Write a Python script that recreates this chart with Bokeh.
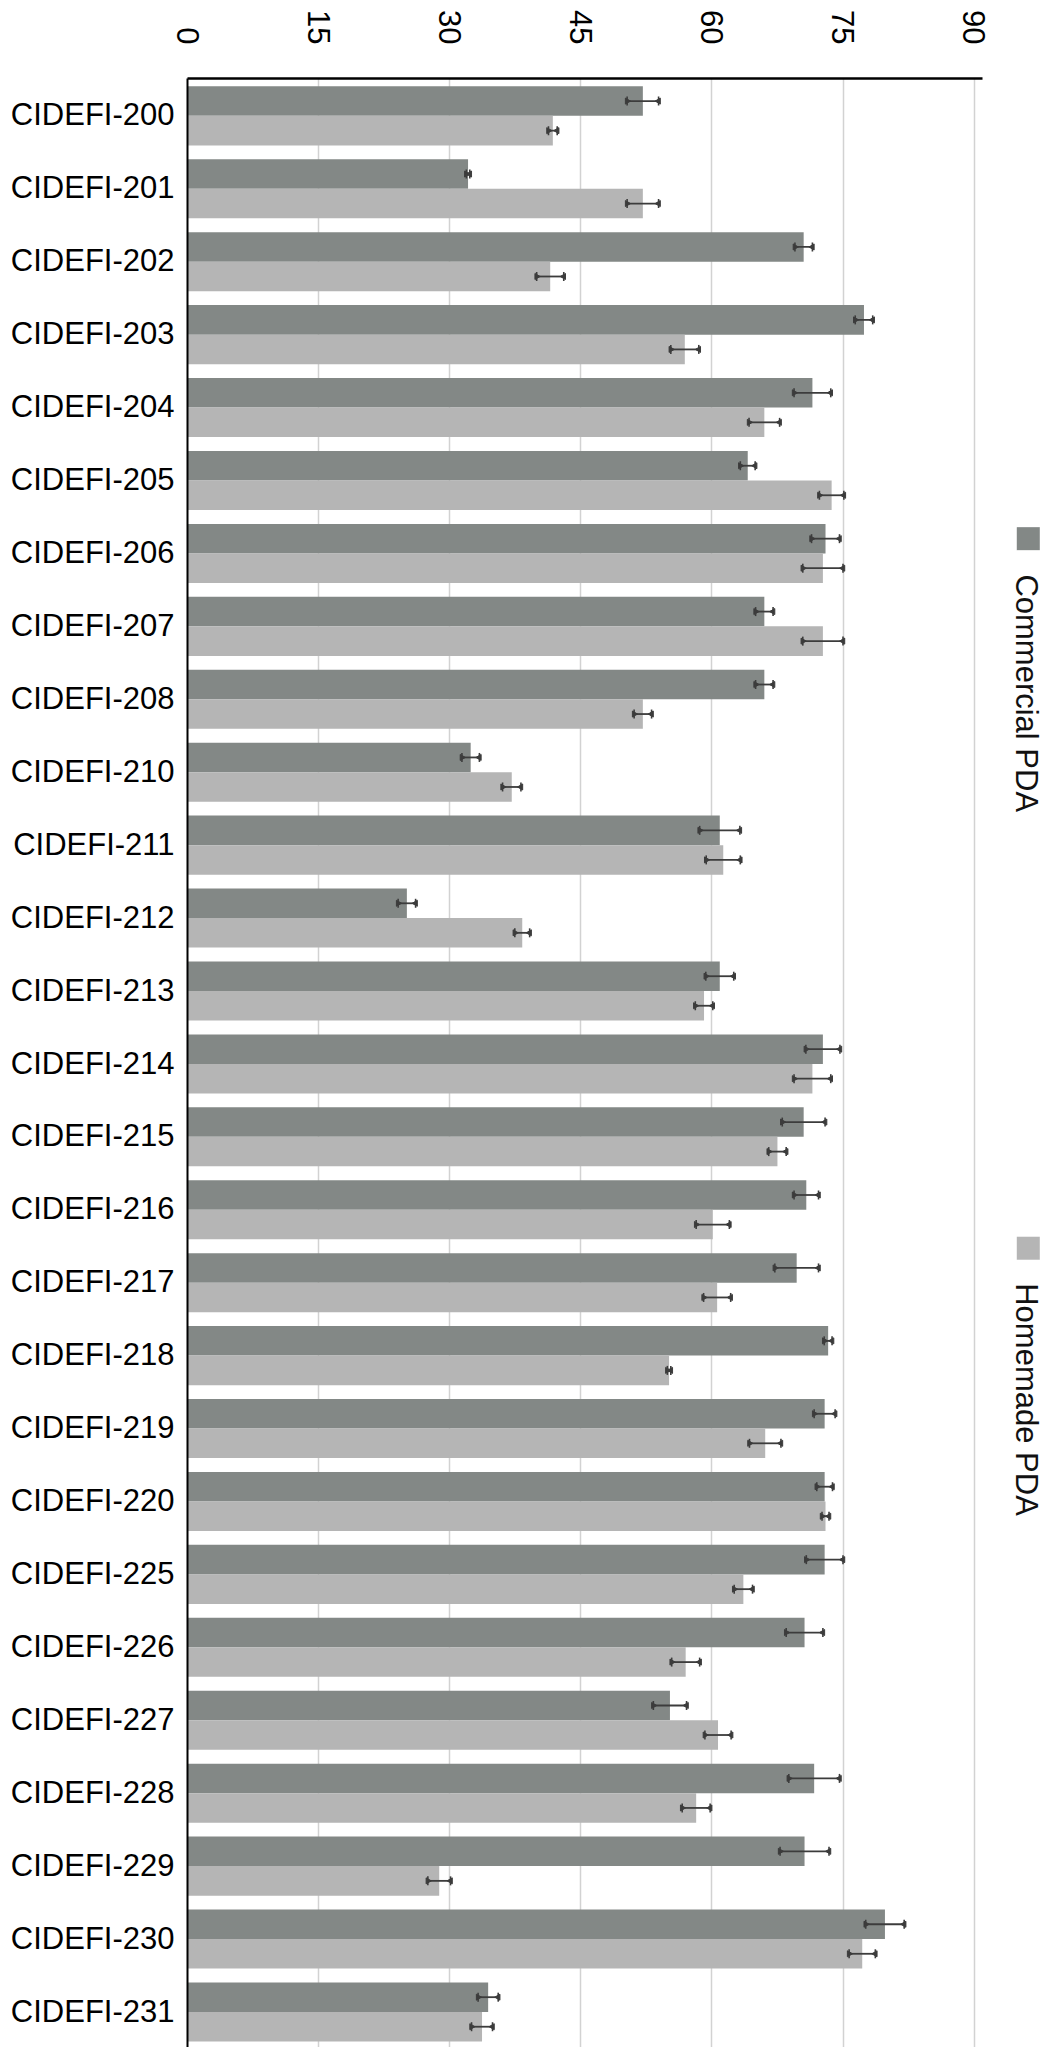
import math
from bokeh.plotting import figure
from bokeh.models import ColumnDataSource, FactorRange, Range1d, FixedTicker
from bokeh.transform import dodge
from bokeh.core.properties import value
from bokeh.embed import file_html
from bokeh.resources import INLINE

cats = ["CIDEFI-200", "CIDEFI-201", "CIDEFI-202", "CIDEFI-203", "CIDEFI-204",
        "CIDEFI-205", "CIDEFI-206", "CIDEFI-207", "CIDEFI-208", "CIDEFI-210",
        "CIDEFI-211", "CIDEFI-212", "CIDEFI-213", "CIDEFI-214", "CIDEFI-215",
        "CIDEFI-216", "CIDEFI-217", "CIDEFI-218", "CIDEFI-219", "CIDEFI-220",
        "CIDEFI-225", "CIDEFI-226", "CIDEFI-227", "CIDEFI-228", "CIDEFI-229",
        "CIDEFI-230", "CIDEFI-231"]

commercial = [52.1, 32.1, 70.5, 77.4, 71.5, 64.1, 73.0, 66.0, 66.0, 32.4,
              60.9, 25.1, 60.9, 72.7, 70.5, 70.8, 69.7, 73.3, 72.9, 72.9,
              72.9, 70.6, 55.2, 71.7, 70.6, 79.8, 34.4]
commercial_err = [1.8, 0.2, 1.0, 1.0, 2.1, 0.85, 1.6, 1.0, 1.0, 1.0,
                  2.3, 1.0, 1.6, 1.95, 2.45, 1.4, 2.5, 0.45, 1.2, 0.9,
                  2.1, 2.1, 1.9, 2.9, 2.8, 2.2, 1.15]
homemade = [41.8, 52.1, 41.5, 56.9, 66.0, 73.7, 72.7, 72.7, 52.1, 37.1,
            61.3, 38.3, 59.1, 71.5, 67.5, 60.1, 60.6, 55.1, 66.1, 73.0,
            63.6, 57.0, 60.7, 58.2, 28.8, 77.2, 33.7]
homemade_err = [0.5, 1.8, 1.55, 1.6, 1.75, 1.4, 2.3, 2.3, 1.0, 1.05,
                1.95, 0.85, 1.0, 2.1, 1.0, 1.9, 1.55, 0.2, 1.8, 0.4,
                1.05, 1.6, 1.5, 1.6, 1.3, 1.5, 1.2]

x_ticks = [0, 15, 30, 45, 60, 75, 90]
series_names = ["Commercial PDA", "Homemade PDA"]
colors = ["#838886", "#b5b5b5"]
FONT = "Liberation Sans"

src = ColumnDataSource(dict(
    cat=cats,
    com=commercial,
    com_lo=[v - e for v, e in zip(commercial, commercial_err)],
    com_hi=[v + e for v, e in zip(commercial, commercial_err)],
    hom=homemade,
    hom_lo=[v - e for v, e in zip(homemade, homemade_err)],
    hom_hi=[v + e for v, e in zip(homemade, homemade_err)],
))

W, H = 1045, 2047
LEFT, TOP = 187, 78
SCALE = 8.74
p = figure(width=W, height=H, output_backend="svg", toolbar_location=None,
           y_range=FactorRange(factors=list(reversed(cats))),
           x_range=Range1d(0, (W - LEFT) / SCALE), x_axis_location="above",
           min_border_left=LEFT, min_border_right=0, min_border_top=TOP,
           min_border_bottom=0)
p.outline_line_color = None
p.background_fill_color = "white"
p.border_fill_color = "white"

bar_h = 0.405
offs = [0.19, -0.215]
keys = ["com", "hom"]
for k, off, col in zip(keys, offs, colors):
    yy = dodge("cat", off, range=p.y_range)
    p.hbar(y=yy, right=k, left=0, height=bar_h, source=src,
           fill_color=col, line_color=None)
for k, off in zip(keys, offs):
    yy = dodge("cat", off, range=p.y_range)
    p.segment(x0=k + "_lo", x1=k + "_hi", y0=yy, y1=yy, source=src,
              line_color="#3c3c3c", line_width=1.8)
    p.scatter(x=k + "_hi", y=yy, source=src, marker="triangle", angle=math.pi / 2,
              size=6, fill_color="#3c3c3c", line_color="#3c3c3c")
    p.scatter(x=k + "_lo", y=yy, source=src, marker="triangle", angle=-math.pi / 2,
              size=6, fill_color="#3c3c3c", line_color="#3c3c3c")
    for end in ("_lo", "_hi"):
        p.scatter(x=k + end, y=yy, source=src, marker="dash", angle=math.pi / 2,
                  size=9, line_color="#3c3c3c", line_width=1.6)

# legend (rotated, drawn manually at the right)
leg_sq_x = [96.2, 96.2]
leg_tx_x = [96.0, 96.0]
leg_sq_y = [20.69, 10.96]
leg_tx_y = [20.2, 10.48]
p.scatter(x=leg_sq_x, y=leg_sq_y, marker="square", size=23, fill_color=colors,
          line_color=None)
p.text(x=leg_tx_x, y=leg_tx_y, text=series_names, angle=-math.pi / 2,
       text_align="left", text_baseline="middle", text_font=value(FONT),
       text_font_size="31px", text_color="#111111")

# axes
xa = p.xaxis[0]
xa.ticker = FixedTicker(ticks=x_ticks)
xa.bounds = (0, 91.0)
xa.major_label_orientation = -math.pi / 2
xa.major_label_standoff = 34
xa.major_tick_out = 0
xa.major_tick_in = 0
xa.minor_tick_out = 0
xa.minor_tick_in = 0
xa.axis_line_color = "black"
xa.axis_line_width = 2.5
xa.major_label_text_font = FONT
xa.major_label_text_font_size = "31px"
xa.major_label_text_color = "black"

ya = p.yaxis[0]
ya.major_tick_out = 0
ya.major_tick_in = 0
ya.minor_tick_out = 0
ya.major_label_standoff = 13
ya.axis_line_color = "black"
ya.axis_line_width = 2
ya.major_label_text_font = FONT
ya.major_label_text_font_size = "31px"
ya.major_label_text_color = "black"

p.ygrid.grid_line_color = None
p.xgrid.ticker = FixedTicker(ticks=x_ticks[1:])
p.xgrid.grid_line_color = "#d2d2d2"
p.xgrid.grid_line_width = 1.5

open("out.html", "w").write(file_html(p, INLINE))
